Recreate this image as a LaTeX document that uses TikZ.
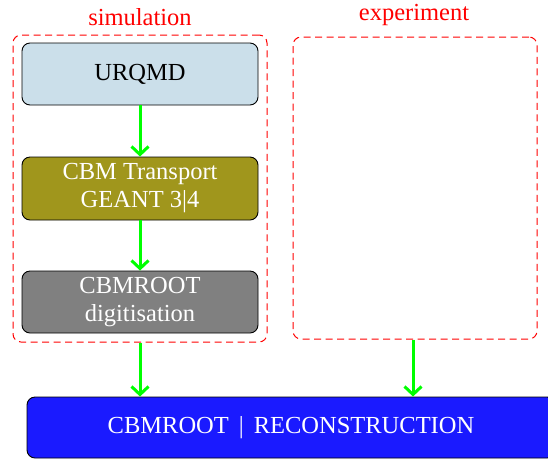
\documentclass[tikz,border=0pt]{standalone}
\usepackage{fontspec}
\setmainfont{Liberation Serif}
\usetikzlibrary{arrows.meta}
\definecolor{urqmdfill}{RGB}{203,223,234}
\definecolor{transfill}{RGB}{160,150,28}
\definecolor{digitfill}{RGB}{128,128,128}
\definecolor{recofill}{RGB}{26,26,255}
\definecolor{flowgreen}{RGB}{0,255,0}
\definecolor{groupred}{RGB}{255,0,0}
\tikzset{
  x=1pt, y=1pt,
  txt/.style={font=\fontsize{24.5}{30}\selectfont, align=center},
  stage/.style={txt, draw=black, line width=0.9pt, rounded corners=8pt,
    minimum width=236pt, minimum height=62pt, inner sep=0pt},
  group/.style={draw=groupred, line width=1pt, dash pattern=on 7pt off 4.5pt,
    rounded corners=8pt, inner sep=0pt},
  grouplabel/.style={txt, text=red},
  flow/.style={draw=flowgreen, line width=3pt,
    -{Straight Barb[length=8pt,width=17pt,line width=3pt]}},
}
\begin{document}
\begin{tikzpicture}
\useasboundingbox (0,0) rectangle (548,-459);
% groups
\node[group, minimum width=254pt, minimum height=307pt] (sim) at (140,-188.5) {};
\node[group, minimum width=244pt, minimum height=302pt] (exp) at (415,-188) {};
\node[grouplabel] (simlabel) at (140,-17) {simulation};
\node[grouplabel] (explabel) at (414,-15) {experiment};
% stages
\node[stage, fill=urqmdfill, text=black] (urqmd) at (140,-74) {URQMD};
\node[stage, fill=transfill, text=white, minimum height=63pt] (trans) at (140,-188.5) {CBM Transport\\[-2pt]GEANT 3|4};
\node[stage, fill=digitfill, text=white] (digit) at (140,-302) {CBMROOT\\[-2pt]digitisation};
\node[stage, fill=recofill, text=white, minimum width=528pt, minimum height=61pt] (reco) at (291,-427.5) {CBMROOT\hspace{10pt}|\hspace{10pt}RECONSTRUCTION};
% flows
\draw[flow] (urqmd.south) -- (trans.north);
\draw[flow] (trans.south) -- (digit.north);
\draw[flow] (sim.south) -- (sim.south |- reco.north);
\draw[flow] ([xshift=-2pt]exp.south) -- ([xshift=-2pt]exp.south |- reco.north);
\end{tikzpicture}
\end{document}
